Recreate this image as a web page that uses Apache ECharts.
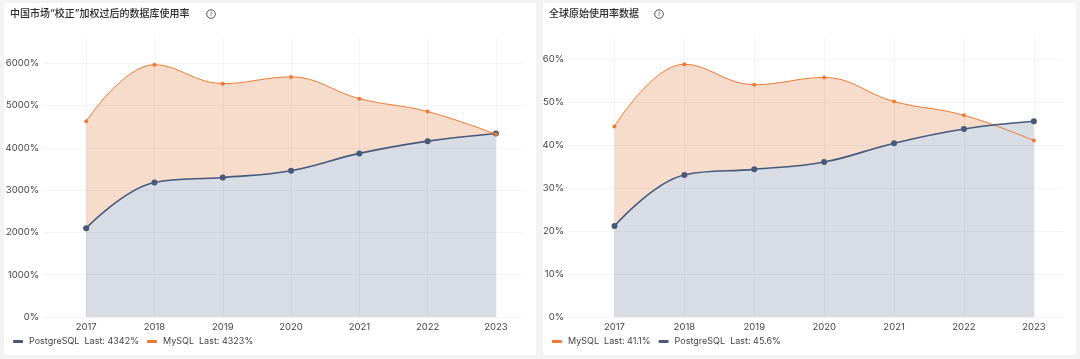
<!DOCTYPE html>
<html><head><meta charset="utf-8">
<style>html,body{margin:0;padding:0;background:#f3f3f3}#c{width:1080px;height:359px}</style>
<script src="https://cdn.jsdelivr.net/npm/echarts@6/dist/echarts.min.js"></script>
</head><body><div id="c"></div>
<script>
const years = [2017, 2018, 2019, 2020, 2021, 2022, 2023];
const chinaPostgres = [2100, 3180, 3300, 3460, 3870, 4160, 4342];
const chinaMysql = [4630, 5970, 5520, 5680, 5165, 4860, 4323];
const globalMysql = [44.4, 58.9, 54.1, 55.8, 50.2, 47.0, 41.1];
const globalPostgres = [21.2, 33.1, 34.4, 36.1, 40.5, 43.8, 45.6];
const chinaTitle = '中国市场“校正”加权过后的数据库使用率';
const globalTitle = '全球原始使用率数据';
const chinaLast = {PostgreSQL: '4342%', MySQL: '4323%'};
const globalLast = {MySQL: '41.1%', PostgreSQL: '45.6%'};

const ORANGE = '#ee7a32', BLUE = '#46597b', ORANGE_FILL = '#f8dccb', BLUE_FILL = '#d7dce5';
const GRID = 'rgba(60,70,90,0.06)', TXT = '#444';
const FONT = 'Inter, "Noto Sans", sans-serif';
const SMOOTH = 0.4;
const pts = a => a.map((v, i) => [years[i], v]);
const chart = echarts.init(document.getElementById('c'), null, {renderer: 'canvas'});

function xAxis(gridIndex, min, max) {
  return {type: 'value', gridIndex, min, max, splitNumber: 7, z: 3,
    axisLine: {show: false}, axisTick: {show: false},
    axisLabel: {color: TXT, fontSize: 9.5, fontFamily: FONT, margin: 5, showMinLabel: false, showMaxLabel: false,
      formatter: v => Number.isInteger(v) ? String(v) : ''},
    splitLine: {show: true, showMinLine: false, showMaxLine: false, lineStyle: {color: GRID, width: 1}}};
}
function yAxis(gridIndex, max, interval) {
  return {type: 'value', gridIndex, min: 0, max, interval, z: 3,
    axisLine: {show: false}, axisTick: {show: false},
    axisLabel: {color: TXT, fontSize: 9.5, fontFamily: FONT, margin: 4, showMaxLabel: false, formatter: v => v + '%'},
    splitLine: {show: true, showMaxLine: false, lineStyle: {color: GRID, width: 1}}};
}
function area(idx, name, data, fill, z) {
  return {type: 'line', name: name + ' area', xAxisIndex: idx, yAxisIndex: idx, data: pts(data), smooth: SMOOTH,
    showSymbol: false, silent: true, z, lineStyle: {width: 0}, areaStyle: {color: fill, opacity: 1}, itemStyle: {color: fill}, animation: false};
}
function line(idx, name, data, color, width, size, z) {
  return {type: 'line', name, xAxisIndex: idx, yAxisIndex: idx, data: pts(data), smooth: SMOOTH,
    symbol: 'circle', symbolSize: size, showSymbol: true, z, lineStyle: {color, width}, itemStyle: {color}, animation: false};
}
function legend(left, names, last) {
  return {left, top: 337, orient: 'horizontal', data: names, itemWidth: 10, itemHeight: 3, itemGap: 8, icon: 'roundRect', selectedMode: false,
    padding: 0, textStyle: {color: TXT, fontSize: 9, fontFamily: FONT, padding: [0, 0, 0, 1]},
    formatter: n => n + '  Last: ' + last[n]};
}
function infoIcon(cx) {
  return [
    {type: 'circle', shape: {cx, cy: 14, r: 4.3}, style: {fill: 'none', stroke: '#555', lineWidth: 1}, z: 5},
    {type: 'text', style: {x: cx, y: 14, text: 'i', fill: '#555', fontSize: 7, fontFamily: FONT, align: 'center', verticalAlign: 'middle'}, z: 5}
  ];
}
const titleStyle = {fontSize: 10, fontWeight: 500, color: '#2b2b2b', fontFamily: 'Inter, "Noto Sans CJK SC"'};
chart.setOption({
  backgroundColor: '#f3f3f3',
  animation: false,
  graphic: [
    {type: 'rect', shape: {x: 4, y: 3, width: 532, height: 352}, style: {fill: '#fff'}, z: -10},
    {type: 'rect', shape: {x: 543, y: 3, width: 533, height: 352}, style: {fill: '#fff'}, z: -10},
    ...infoIcon(211), ...infoIcon(659)
  ],
  title: [
    {text: chinaTitle, left: 10, top: 9, textStyle: titleStyle, padding: 0},
    {text: globalTitle, left: 549, top: 9, textStyle: titleStyle, padding: 0}
  ],
  grid: [
    {left: 43, top: 38, width: 480, height: 279},
    {left: 568, top: 38, width: 495, height: 279}
  ],
  xAxis: [xAxis(0, 2016.368, 2023.396), xAxis(1, 2016.335, 2023.417)],
  yAxis: [yAxis(0, 6600, 1000), yAxis(1, 65, 10)],
  legend: [legend(13, ['PostgreSQL', 'MySQL'], chinaLast), legend(552, ['MySQL', 'PostgreSQL'], globalLast)],
  series: [
    area(0, 'MySQL', chinaMysql, ORANGE_FILL, 1),
    area(0, 'PostgreSQL', chinaPostgres, BLUE_FILL, 2),
    line(0, 'PostgreSQL', chinaPostgres, BLUE, 1.6, 6, 4),
    line(0, 'MySQL', chinaMysql, ORANGE, 1, 4, 5),
    area(1, 'MySQL', globalMysql, ORANGE_FILL, 1),
    area(1, 'PostgreSQL', globalPostgres, BLUE_FILL, 2),
    line(1, 'MySQL', globalMysql, ORANGE, 1, 4, 4),
    line(1, 'PostgreSQL', globalPostgres, BLUE, 1.6, 6, 5)
  ]
});
</script></body></html>
